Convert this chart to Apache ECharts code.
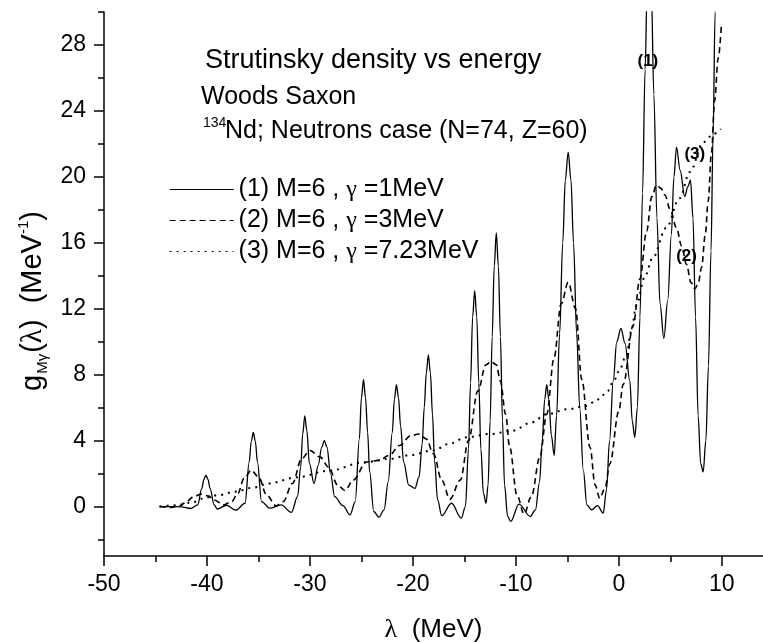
<!DOCTYPE html>
<html><head><meta charset="utf-8">
<script src="https://cdn.jsdelivr.net/npm/echarts@6/dist/echarts.min.js"></script>
<style>html,body{margin:0;padding:0;background:#fff}#c{width:763px;height:642px}</style>
</head><body><div id="c"></div>
<script>
// ---- data ----
const seriesNames = ['(1) M=6 , γ =1MeV', '(2) M=6 , γ =3MeV', '(3) M=6 , γ =7.23MeV'];

const lambda1 = [-44.6,-43.5,-42.5,-41.6,-40.9,-40.5,-40.3,-40.1,-39.9,-39.7,-39.3,-39.0,-38.1,-37.2,
  -36.3,-35.9,-35.7,-35.5,-35.3,-35.1,-34.7,-33.9,-32.8,-31.8,
  -31.2,-30.9,-30.7,-30.5,-30.3,-30.05,-29.6,-29.2,-28.85,-28.6,-28.35,-28.0,-27.6,-26.8,-26.1,
  -25.6,-25.2,-25.0,-24.8,-24.6,-24.4,-24.2,-23.8,-23.3,
  -22.8,-22.4,-22.0,-21.8,-21.6,-21.4,-21.2,-20.9,-20.4,-19.8,
  -19.4,-19.1,-18.9,-18.7,-18.5,-18.3,-18.1,-17.9,-17.6,-17.2,-16.25,-15.3,
  -14.9,-14.6,-14.4,-14.2,-14.0,-13.8,-13.6,-13.4,-13.15,-12.9,
  -12.7,-12.5,-12.3,-12.1,-11.9,-11.7,-11.5,-11.3,-11.1,-10.8,-10.5,-9.7,-8.6,
  -8.1,-7.7,-7.45,-7.2,-7.0,-6.8,-6.55,-6.28,
  -6.05,-5.75,-5.45,-5.2,-4.92,-4.65,-4.4,-4.1,-3.8,-3.45,-3.1,-2.65,-2.07,-1.52,
  -1.2,-0.9,-0.55,-0.2,0.2,0.6,1.07,1.3,1.55,
  1.8,2.05,2.3,2.55,2.75,2.94,3.15,3.4,3.7,4.0,4.37,
  4.75,5.1,5.35,5.6,5.95,6.4,6.7,6.96,7.2,7.45,7.7,7.95,8.19,
  8.45,8.7,8.95,9.15,9.35,9.5];
const g1 = [0,0,-0.02,-0.12,0.1,1.1,1.65,1.9,1.65,1.1,0.1,-0.15,0.08,-0.22,
  0.2,2.7,3.95,4.5,3.95,2.7,0.3,-0.1,0.1,-0.35,
  0.6,2.4,4.4,5.5,4.6,2.6,1.4,2.5,3.6,4.0,3.6,2.0,0.6,0.06,-0.5,
  0.3,4.1,6.6,7.7,6.6,4.5,2.1,-0.3,-0.65,
  -0.2,1.5,4.5,6.5,7.4,6.6,4.9,2.7,1.3,1.1,
  1.8,3.8,6.0,8.1,9.2,8.1,5.6,2.8,0.4,-0.55,0.2,-0.7,
  0.0,3.5,7.5,11.5,13.1,11.5,7.5,3.5,0.8,0.2,
  1.3,5.2,10.3,14.6,16.6,14.6,10.3,5.2,1.3,-0.6,-0.9,0.15,-0.6,
  -0.2,1.5,3.9,6.5,7.4,6.5,4.3,3.1,
  5.5,10.5,16.0,19.8,21.5,19.8,16.0,10.5,6.0,2.2,0.1,-0.2,0.06,-0.4,
  1.0,4.0,7.6,10.0,10.8,9.9,7.6,5.2,4.2,
  6.0,11.5,19.0,26.5,31.5,33.0,31.5,25.0,17.5,12.3,10.2,
  12.5,16.5,20.0,21.8,20.4,18.8,19.4,19.8,17.5,11.5,5.5,2.6,2.1,
  4.0,8.5,15.5,22.5,30.0,36.0];

const lambda2 = [-44.6,-43.5,-42.6,-42.0,-41.3,-40.6,-39.9,-39.3,-38.4,-37.6,-37.0,-36.4,-35.7,-35.0,-34.2,
  -33.3,-32.6,-31.7,-30.8,-30.0,-29.0,-28.2,-27.3,-26.6,-25.8,-24.5,-23.3,-22.3,-21.3,-20.2,-19.4,
  -18.7,-18.0,-17.2,-16.4,-15.4,-14.6,-13.7,-12.9,-12.4,-11.9,-11.5,-11.0,-10.6,-9.9,-9.2,
  -8.5,-7.67,-7.0,-6.3,-5.6,-4.92,-4.2,-3.6,-2.8,-2.3,-1.85,-1.35,-0.87,0.0,0.42,
  1.4,2.04,2.7,3.2,3.66,4.1,4.47,5.0,5.6,6.1,6.57,7.0,7.38,7.7,8.03,8.4,8.67,9.0,9.3,9.65,9.97];
const g2 = [0,-0.05,0.05,0.3,0.6,0.75,0.65,0.4,0.1,0.3,0.8,1.7,2.2,1.8,0.7,
  0.05,0.3,1.4,2.9,3.4,3.0,2.4,1.3,0.97,1.6,2.7,2.8,3.1,3.7,4.3,4.4,
  4.1,3.2,1.6,0.45,1.6,4.0,7.0,8.6,8.8,8.6,7.6,5.6,3.6,0.7,-0.45,
  0.6,3.0,5.6,9.0,12.3,13.6,12.0,7.7,3.6,1.3,0.5,1.1,2.6,5.8,7.4,
  11.0,13.8,16.7,18.8,19.5,19.3,18.9,18.0,16.9,15.8,14.7,13.6,13.2,13.5,14.5,16.5,18.5,21.5,24.6,27.2,29.3];

const lambda3 = [-44.6,-43.6,-42.6,-41.3,-40.1,-38.8,-37.3,-35.5,-34.0,-31.3,-28.1,-24.8,-22.2,-20.5,-18.0,
  -16.5,-14.8,-12.5,-10.3,-8.5,-7.0,-5.0,-3.2,-2.0,-1.2,-0.5,0.0,0.75,1.2,1.7,2.5,3.3,4.6,5.9,6.9,8.2,9.2,9.9];
const g3 = [0,0.05,0.12,0.28,0.55,0.7,0.9,1.15,1.4,1.77,2.18,2.68,2.9,3.1,3.4,
  3.8,4.2,4.4,4.6,5.1,5.6,5.9,6.1,6.5,6.9,7.6,8.2,9.2,10.6,12.2,13.9,15.1,16.9,18.7,20.3,22.1,22.6,22.9];

const xMajorTicks = [-50,-40,-30,-20,-10,0,10];
const xMinorTicks = [-45,-35,-25,-15,-5,5];
const yMajorTicks = [0,4,8,12,16,20,24,28];
const yMinorTicks = [-2,2,6,10,14,18,22,26,30];

const curveTags = ['(1)','(2)','(3)'];
const curveTagAt = [[2.82,26.98],[6.58,15.18],[7.38,21.37]];

// ---- chart ----
const SANS = '"Liberation Sans", Arial, Helvetica, sans-serif';
const SERIF = '"Liberation Serif", "DejaVu Serif", serif';
const zip = (a, b) => a.map((v, i) => [v, b[i]]);
const chart = echarts.init(document.getElementById('c'));

const axisCommonX = {type:'value', min:-50, max:14, gridIndex:0, position:'bottom', splitLine:{show:false}};
const axisCommonY = {type:'value', min:-3, max:30, gridIndex:0, position:'left', splitLine:{show:false}};
const lineCol = '#000';

const option = {
  animation:false,
  backgroundColor:'#fff',
  grid:{left:104, right:0, top:12, bottom:86, containLabel:false, outerBoundsMode:'none'},
  xAxis:[
    Object.assign({}, axisCommonX, {
      axisLine:{onZero:false, lineStyle:{color:lineCol, width:1.5}},
      axisTick:{customValues:xMajorTicks, length:10, lineStyle:{color:lineCol, width:1.5}},
      axisLabel:{customValues:xMajorTicks, color:'#000', fontSize:23, fontFamily:SANS, margin:17},
      name:'{l|λ}  (MeV)', nameLocation:'middle', nameGap:61,
      nameTextStyle:{color:'#000', fontSize:26, fontFamily:SANS, rich:{l:{fontFamily:SERIF, fontSize:26, color:'#000'}}}
    }),
    Object.assign({}, axisCommonX, {
      axisLine:{show:false, onZero:false},
      axisTick:{customValues:xMinorTicks, length:6, lineStyle:{color:lineCol, width:1.5}},
      axisLabel:{show:false}
    })
  ],
  yAxis:[
    Object.assign({}, axisCommonY, {
      axisLine:{onZero:false, lineStyle:{color:lineCol, width:1.5}},
      axisTick:{customValues:yMajorTicks, length:10, lineStyle:{color:lineCol, width:1.5}},
      axisLabel:{customValues:yMajorTicks, color:'#000', fontSize:23, fontFamily:SANS, margin:18}
    }),
    Object.assign({}, axisCommonY, {
      axisLine:{show:false, onZero:false},
      axisTick:{customValues:yMinorTicks, length:6, lineStyle:{color:lineCol, width:1.5}},
      axisLabel:{show:false}
    })
  ],
  legend:{
    orient:'vertical', left:169, top:177, padding:0, itemGap:6,
    itemWidth:64, itemHeight:14,
    data:seriesNames,
    lineStyle:{width:1.2},
    itemStyle:{color:'rgba(0,0,0,0)', borderWidth:0, opacity:0},
    textStyle:{color:'#000', fontSize:25, fontFamily:SANS,
      rich:{g:{fontFamily:SERIF, fontSize:24, color:'#000'}}},
    formatter:(n) => n.replace('γ', '{g|γ}')
  },
  series:[
    {name:seriesNames[0], type:'line', data:zip(lambda1, g1), symbol:'none', smooth:0.35, smoothMonotone:'x',
      lineStyle:{color:'#000', width:1.3, type:'solid'}, itemStyle:{color:'#000'}, clip:true},
    {name:seriesNames[1], type:'line', data:zip(lambda2, g2), symbol:'none', smooth:0.35, smoothMonotone:'x',
      lineStyle:{color:'#000', width:1.6, type:[6,4]}, itemStyle:{color:'#000'}, clip:true},
    {name:seriesNames[2], type:'line', data:zip(lambda3, g3), symbol:'none', smooth:0.35, smoothMonotone:'x',
      lineStyle:{color:'#000', width:2, type:[2,5]}, itemStyle:{color:'#000'}, clip:true}
  ]
};
chart.setOption(option);

const textEls = [
  {type:'text', x:205, y:61, style:{text:'Strutinsky density vs energy', font:'27px ' + SANS, fill:'#000', textAlign:'left', textVerticalAlign:'middle', align:'left', verticalAlign:'middle'}},
  {type:'text', x:201, y:97.5, style:{text:'Woods Saxon', font:'25px ' + SANS, fill:'#000', textAlign:'left', textVerticalAlign:'middle', align:'left', verticalAlign:'middle'}},
  {type:'text', x:203, y:123, style:{text:'134', font:'14px ' + SANS, fill:'#000', textAlign:'left', textVerticalAlign:'middle', align:'left', verticalAlign:'middle'}},
  {type:'text', x:225, y:131.5, style:{text:'Nd; Neutrons case (N=74, Z=60)', font:'25px ' + SANS, fill:'#000', textAlign:'left', textVerticalAlign:'middle', align:'left', verticalAlign:'middle'}},
  {type:'text', x:33, y:301, rotation:Math.PI/2,
    style:{text:'{m|g}{s|Mγ}{m|(}{l|λ}{m|)  (MeV}{p|-1}{m|)}', fill:'#000', textAlign:'center', textVerticalAlign:'middle', align:'center', verticalAlign:'middle',
      rich:{
        m:{fontSize:29, fontFamily:SANS, fill:'#000', color:'#000', lineHeight:34},
        l:{fontSize:29, fontFamily:SERIF, fill:'#000', color:'#000', lineHeight:34},
        s:{fontSize:15, fontFamily:SANS, fill:'#000', color:'#000', verticalAlign:'bottom', lineHeight:16, padding:[0,1,0,1]},
        p:{fontSize:15, fontFamily:SANS, fill:'#000', color:'#000', verticalAlign:'top', lineHeight:16}
      }}}
];
curveTags.forEach((t, i) => {
  const p = chart.convertToPixel({xAxisIndex:0, yAxisIndex:0}, curveTagAt[i]);
  textEls.push({type:'text', x:p[0], y:p[1], style:{text:t, font:'bold 17px ' + SANS, fill:'#000', textAlign:'center', textVerticalAlign:'middle', align:'center', verticalAlign:'middle'}});
});
chart.setOption({graphic:{elements:textEls}});
</script>
</body></html>
